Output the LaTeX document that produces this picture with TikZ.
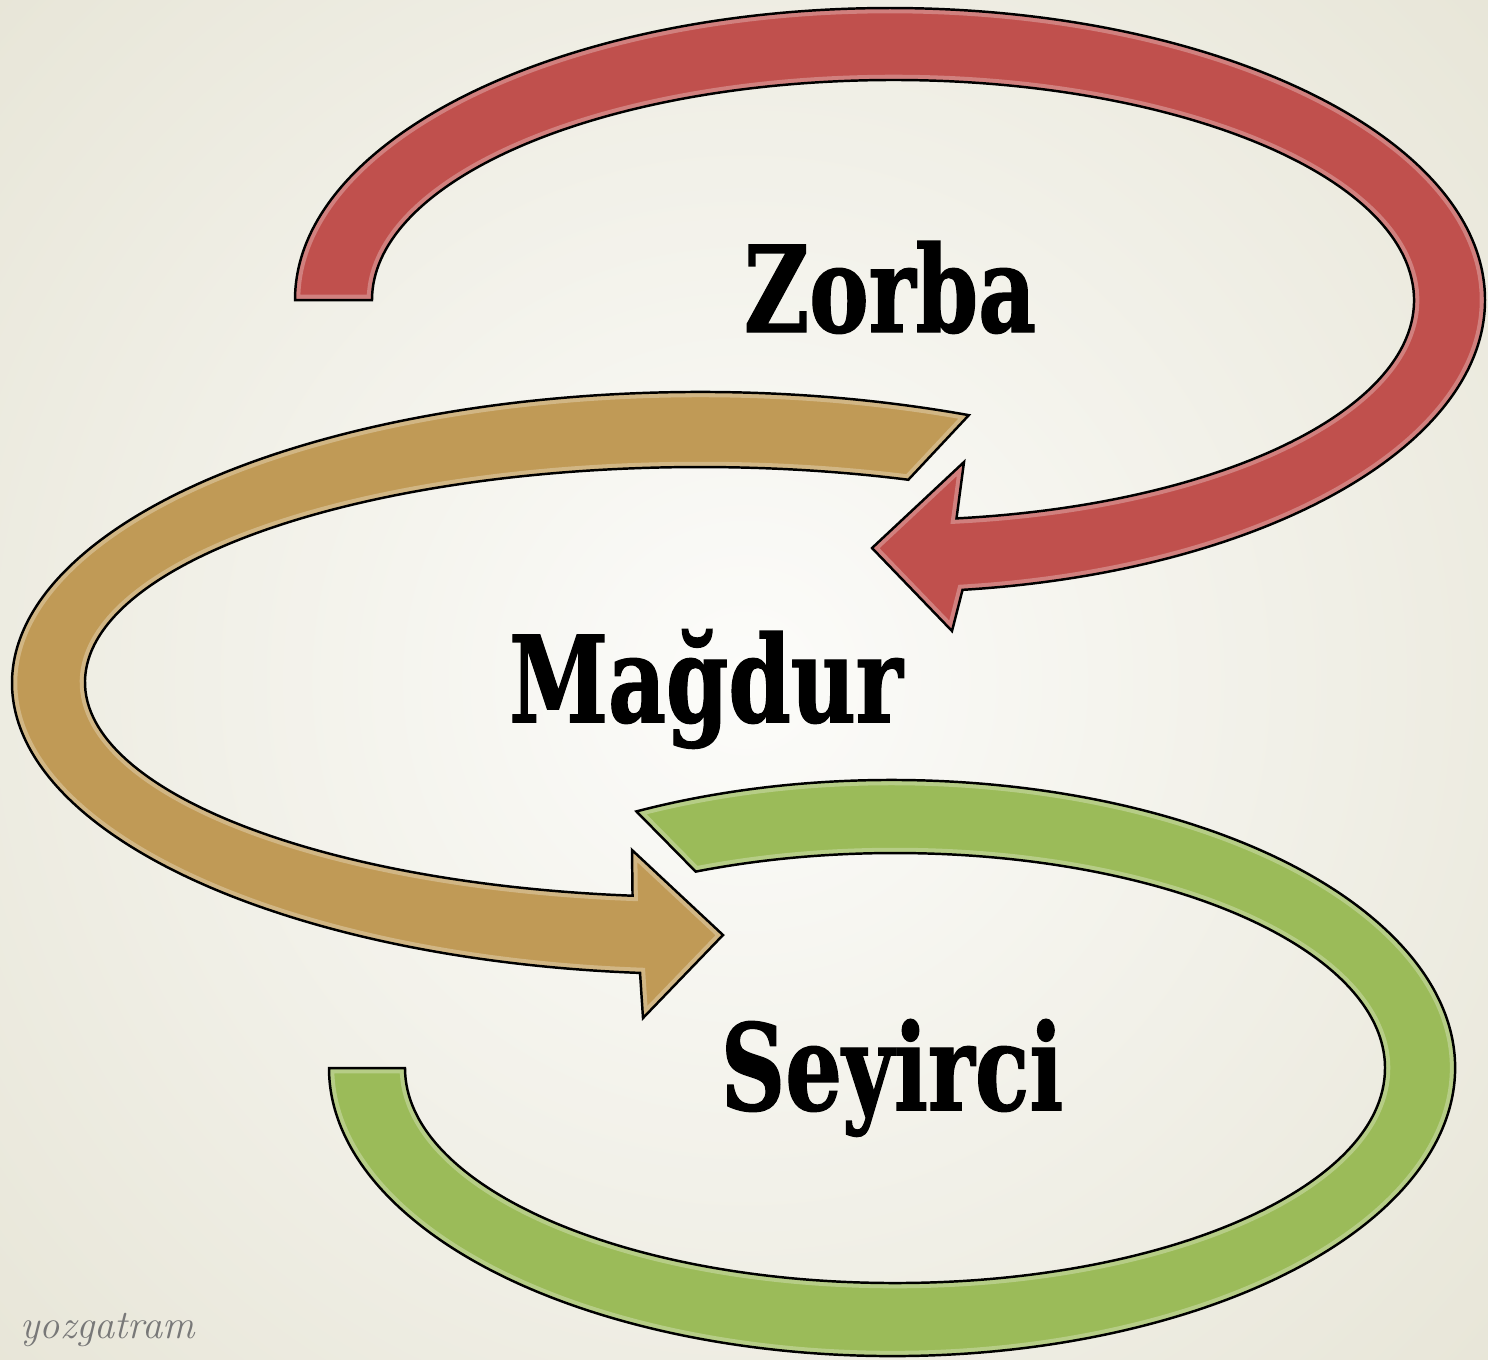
\documentclass[tikz,border=0pt]{standalone}
\usepackage{fontspec}
\newfontfamily\wordfont{DejaVu Serif Condensed}[BoldFeatures={FakeBold=1.2}]
\usetikzlibrary{calc}
\definecolor{zorbared}{RGB}{192,80,77}
\definecolor{magdurtan}{RGB}{192,154,86}
\definecolor{seyircigreen}{RGB}{155,187,89}
\definecolor{bgcenter}{RGB}{252,252,250}
\definecolor{bgedge}{RGB}{221,218,198}
\definecolor{markgray}{RGB}{120,120,120}
\tikzset{
  band/.style={draw=black,line width=0.7pt},
  rim/.style={line width=3pt,opacity=0.5},
  word/.style={font=\wordfont\bfseries\fontsize{34}{40}\selectfont,inner sep=0pt,anchor=base,xscale=0.83,transform shape},
}
% the three bent arrows, in pixel units
\newcommand{\zorbaband}{(295,300) arc[start angle=180,end angle=443,x radius=595,y radius=292]
  -- (952,631) -- (872,548) -- (964,462) -- ($(893,300)+(443:521 and 220)$)
  arc[start angle=443,end angle=180,x radius=521,y radius=220] -- cycle}
\newcommand{\magdurband}{($(700,683)+(-67:688 and 291)$)
  arc[start angle=-67,end angle=-265,x radius=688,y radius=291]
  -- (643,1018) -- (723,935) -- (632,850) -- ($(700,682)+(-263.7:615 and 215)$)
  arc[start angle=-263.7,end angle=-70.2,x radius=615,y radius=215] -- cycle}
\newcommand{\seyirciband}{($(892,1068)+(-117:563 and 288)$)
  arc[start angle=-117,end angle=180,x radius=563,y radius=288]
  -- ($(895,1068)+(180:490 and 215)$)
  arc[start angle=180,end angle=-114,x radius=490,y radius=215] -- cycle}
\begin{document}
\begin{tikzpicture}[x=0.01cm,y=-0.01cm]
  \useasboundingbox (0,0) rectangle (1488,1359);
  % background
  \begin{scope}
    \clip (0,0) rectangle (1488,1359);
    \fill[bgedge] (0,0) rectangle (1488,1359);
    \shade[inner color=bgcenter,outer color=bgedge] (745,680) circle (15.5cm);
  \end{scope}
  % arrows
  \fill[zorbared] \zorbaband;
  \begin{scope}
    \clip \zorbaband;
    \draw[rim,zorbared!45!white] \zorbaband;
  \end{scope}
  \draw[band] \zorbaband;
  \fill[magdurtan] \magdurband;
  \begin{scope}
    \clip \magdurband;
    \draw[rim,magdurtan!45!white] \magdurband;
  \end{scope}
  \draw[band] \magdurband;
  \fill[seyircigreen] \seyirciband;
  \begin{scope}
    \clip \seyirciband;
    \draw[rim,seyircigreen!45!white] \seyirciband;
  \end{scope}
  \draw[band] \seyirciband;
  % words
  \node[word] (zorba) at (890,332) {Zorba};
  \node[word] (magdur) at (706,722) {Mağdur};
  \node[word] (seyirci) at (892,1110) {Seyirci};
  \node[font=\itshape\fontsize{11.5}{13}\selectfont,text=markgray,anchor=base] (mark) at (108,1338) {yozgatram};
\end{tikzpicture}
\end{document}
